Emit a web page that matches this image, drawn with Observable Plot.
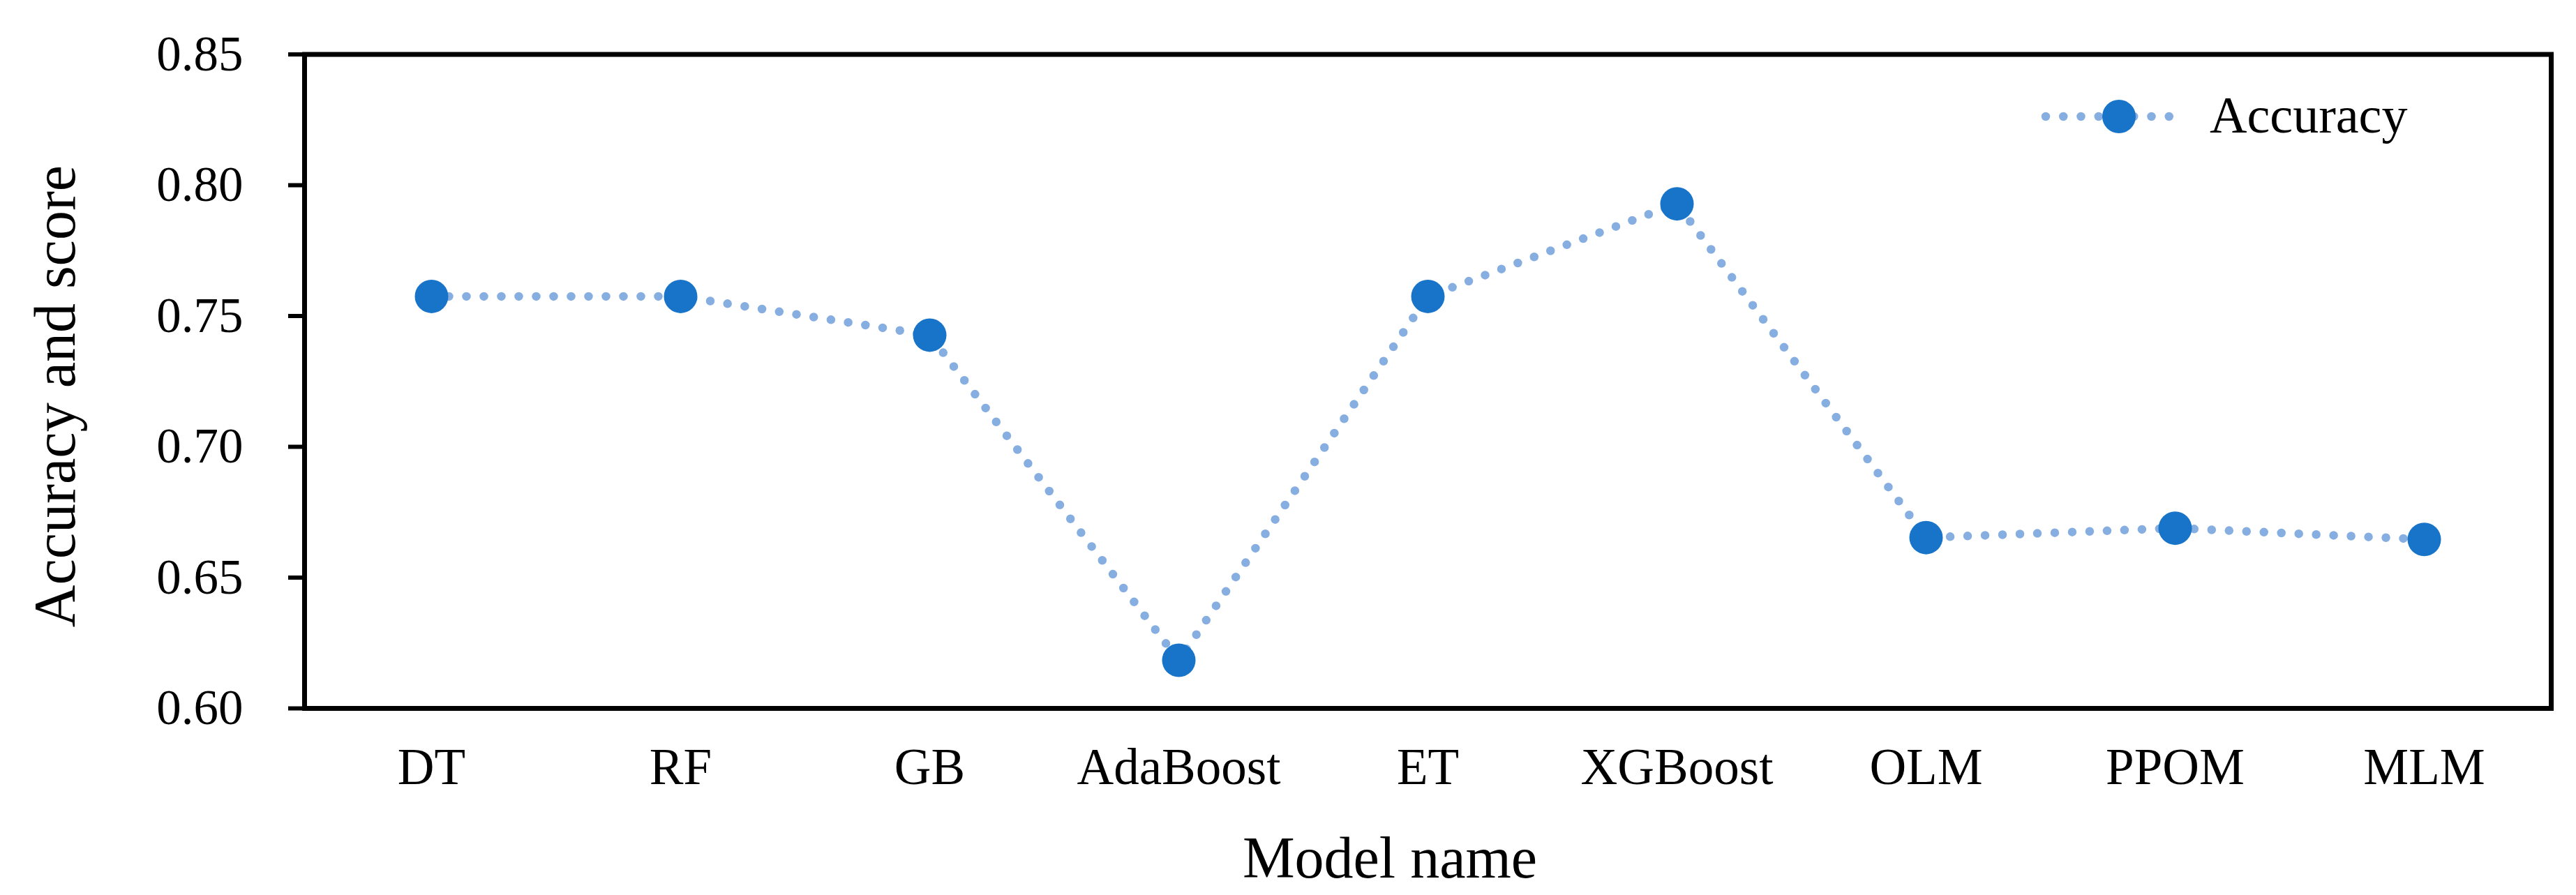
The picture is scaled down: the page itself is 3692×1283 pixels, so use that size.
<!DOCTYPE html>
<html>
<head>
<meta charset="utf-8">
<script src="https://cdn.jsdelivr.net/npm/d3@7"></script>
<script src="https://cdn.jsdelivr.net/npm/@observablehq/plot@0.6"></script>
<style>
  html, body { margin: 0; padding: 0; background: white; }
</style>
</head>
<body>
<div id="chart"></div>
<script>
const models = ["DT", "RF", "GB", "AdaBoost", "ET", "XGBoost", "OLM", "PPOM", "MLM"];
const accuracy = [0.7575, 0.7575, 0.7427, 0.6184, 0.7575, 0.7929, 0.6653, 0.6689, 0.6646];
const yTicks = [0.60, 0.65, 0.70, 0.75, 0.80, 0.85];
const seriesName = "Accuracy";
const xTitle = "Model name";
const yTitle = "Accuracy and score";

const data = models.map((m, i) => ({model: m, value: accuracy[i]}));

const lineColor = "#86AEE0";
const dotColor = "#1874C9";
const font = "'Liberation Serif', 'Times New Roman', serif";

const W = 3692, H = 1283;
const mL = 436, mR = 36, mT = 77.5, mB = 268;

const chart = Plot.plot({
  width: W,
  height: H,
  marginLeft: mL,
  marginRight: mR,
  marginTop: mT,
  marginBottom: mB,
  style: {fontFamily: font, color: "black", background: "white", overflow: "visible"},
  x: {type: "point", domain: models, padding: 0.5},
  y: {domain: [0.6, 0.85]},
  marks: [
    Plot.axisY({ticks: yTicks, tickFormat: d => d.toFixed(2), tickSize: 23, tickPadding: 65, strokeWidth: 6, fontSize: 71, label: null}),
    Plot.axisX({tickSize: 0, tickPadding: 57, fontSize: 73, label: null}),
    Plot.frame({stroke: "black", strokeWidth: 7}),
    Plot.line(data, {x: "model", y: "value", stroke: lineColor, strokeWidth: 12.5, strokeDasharray: "0 25", strokeLinecap: "round"}),
    Plot.dot(data, {x: "model", y: "value", r: 24, fill: dotColor, stroke: null})
  ]
});

document.getElementById("chart").appendChild(chart);

const svg = d3.select(chart);

// Axis titles
svg.append("text")
  .attr("x", 1992).attr("y", 1258)
  .attr("text-anchor", "middle")
  .attr("font-family", font).attr("font-size", 84).attr("fill", "black")
  .text(xTitle);
svg.append("text")
  .attr("transform", "translate(107,568) rotate(-90)")
  .attr("text-anchor", "middle")
  .attr("font-family", font).attr("font-size", 84).attr("fill", "black")
  .text(yTitle);

// Legend inside the plot area (top right)
const lg = svg.append("g").attr("class", "legend");
lg.append("line")
  .attr("x1", 2932).attr("x2", 3134).attr("y1", 167).attr("y2", 167)
  .attr("stroke", lineColor).attr("stroke-width", 12.5)
  .attr("stroke-dasharray", "0 25.25").attr("stroke-linecap", "round");
lg.append("circle").attr("cx", 3037).attr("cy", 167).attr("r", 24).attr("fill", dotColor);
lg.append("text").attr("x", 3167).attr("y", 190)
  .attr("text-anchor", "start")
  .attr("font-family", font).attr("font-size", 74).attr("fill", "black")
  .text(seriesName);
</script>
</body>
</html>
